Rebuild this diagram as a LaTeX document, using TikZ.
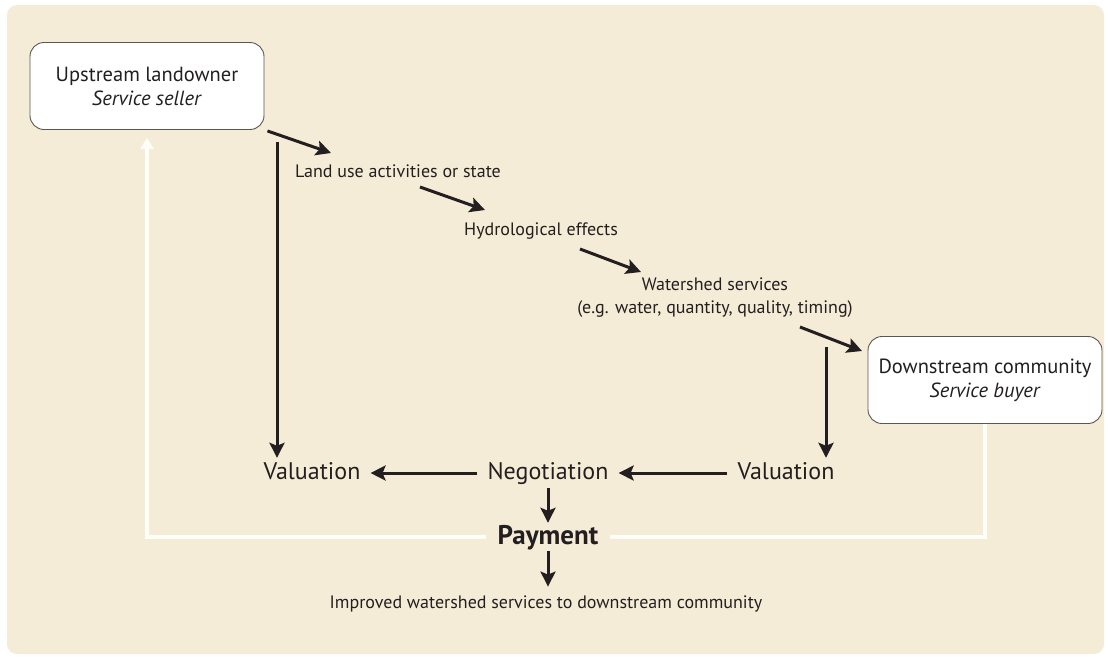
\documentclass[tikz,border=0pt]{standalone}
\usepackage{fontspec}
\setmainfont{PT Sans}
\usetikzlibrary{arrows.meta}
\definecolor{bgc}{HTML}{F5ECD7}
\definecolor{ink}{HTML}{231F20}
\definecolor{edge}{HTML}{5A5650}
\definecolor{paleline}{HTML}{FFFEF8}
\tikzset{
  box/.style={draw=edge, line width=0.9pt, fill=white, rounded corners=14pt,
    minimum width=234pt, minimum height=87pt, align=center, text=ink,
    font=\fontsize{20.5}{24}\selectfont},
  txt/.style={text=ink, align=center, inner sep=0pt, font=\fontsize{18}{23}\selectfont},
  big/.style={text=ink, inner xsep=10pt, inner ysep=4pt, text height=17pt, text depth=5pt,
    font=\fontsize{24}{28}\selectfont},
  paynode/.style={text=ink, inner xsep=12pt, inner ysep=2pt, text height=19pt, text depth=5pt,
    font=\bfseries\fontsize{27}{30}\selectfont},
  arr/.style={draw=ink, line width=3pt, -{Stealth[length=15pt,width=15pt,inset=3pt]}},
  whitearr/.style={draw=paleline, line width=4pt},
}
\begin{document}
\begin{tikzpicture}[x=1pt,y=-1pt]
\useasboundingbox (0,0) rectangle (1108,657);
\fill[white] (0,0) rectangle (1108,657);
\fill[bgc, rounded corners=10pt] (7,5) rectangle (1104,654);

% nodes
\node[box] (up) at (147,86) {Upstream landowner\\\textit{Service seller}};
\node[txt] (land) at (398,171) {Land use activities or state};
\node[txt] (hyd) at (541,231) {Hydrological effects};
\node[txt] (ws) at (715,298) {Watershed services\\(e.g. water, quantity, quality, timing)};
\node[box] (down) at (985,380) {Downstream community\\\textit{Service buyer}};
\node[big] (valL) at (312,473) {Valuation};
\node[big] (neg) at (548,473) {Negotiation};
\node[big] (valR) at (786,473) {Valuation};
\node[paynode] (pay) at (548,537) {Payment};
\node[txt] (imp) at (546,604) {Improved watershed services to downstream community};

% free arrow ends
\coordinate (a1e) at (331,153);
\coordinate (a2s) at (420,187);
\coordinate (a2e) at (485,210);
\coordinate (a3s) at (580,249);
\coordinate (a3e) at (641,272);
\coordinate (a4s) at (800,327);
\coordinate (a4e) at (862,351);
\coordinate (vLs) at (277,142);
\coordinate (vRs) at (826,347);

% white feedback path
\draw[whitearr] (down.south) |- (pay.east);
\draw[whitearr, -{Triangle[length=11pt,width=13pt]}, shorten >=8pt] (pay.west) -| (up.south);

% black arrows
\draw[arr] ([shift={(3,1)}]up.south east) -- (a1e);
\draw[arr] (a2s) -- (a2e);
\draw[arr] (a3s) -- (a3e);
\draw[arr] (a4s) -- (a4e);
\draw[arr] (vLs) -- (vLs |- valL.north);
\draw[arr] (vRs) -- (vRs |- valR.north);
\draw[arr] (neg.west) -- (valL.east);
\draw[arr] (valR.west) -- (neg.east);
\draw[arr] (neg.south) -- (pay.north);
\draw[arr] (pay.south) -- ([yshift=9pt]pay.south |- imp.north);
\end{tikzpicture}
\end{document}
